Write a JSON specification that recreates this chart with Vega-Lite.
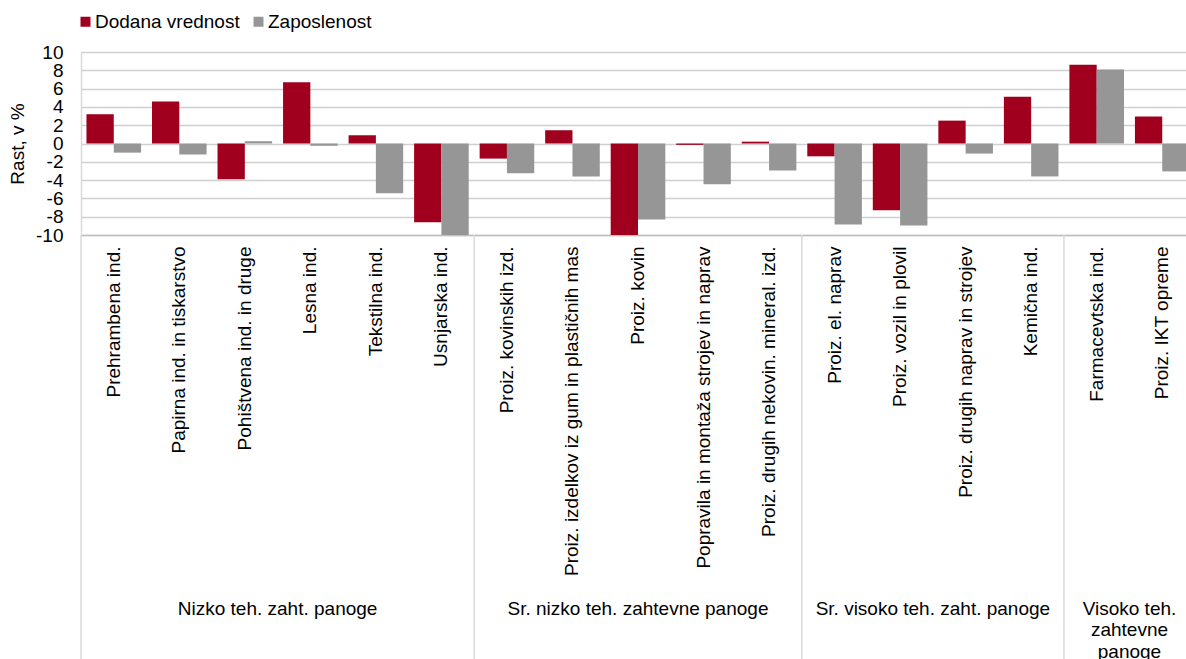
{
  "$schema": "https://vega.github.io/schema/vega-lite/v6.json",
  "width": 1105,
  "height": 183,
  "autosize": {"type": "none"},
  "padding": {"left": 81, "top": 52, "right": 0, "bottom": 424},
  "background": "white",
  "config": {
    "font": "Liberation Sans",
    "view": {"stroke": null},
    "axis": {"labelFont": "Liberation Sans", "titleFont": "Liberation Sans", "labelColor": "#000000", "titleColor": "#000000"},
    "axisY": {"grid": true, "gridColor": "#d0d0d0", "gridWidth": 1.5, "labelOverlap": false, "labelFontSize": 19, "ticks": false, "labelPadding": 18, "domainColor": "#d9d9d9", "domainWidth": 1.5, "titleFontSize": 19, "titleFontWeight": "normal", "titlePadding": 8},
    "legend": {"labelFont": "Liberation Sans"}
  },
  "data": {
    "values": [
      {"cat": "Prehrambena ind.", "group": "Nizko teh. zaht. panoge", "series": "Dodana vrednost", "value": 3.2},
      {"cat": "Prehrambena ind.", "group": "Nizko teh. zaht. panoge", "series": "Zaposlenost", "value": -1.0},
      {"cat": "Papirna ind. in tiskarstvo", "group": "Nizko teh. zaht. panoge", "series": "Dodana vrednost", "value": 4.6},
      {"cat": "Papirna ind. in tiskarstvo", "group": "Nizko teh. zaht. panoge", "series": "Zaposlenost", "value": -1.2},
      {"cat": "Pohištvena ind. in druge", "group": "Nizko teh. zaht. panoge", "series": "Dodana vrednost", "value": -3.9},
      {"cat": "Pohištvena ind. in druge", "group": "Nizko teh. zaht. panoge", "series": "Zaposlenost", "value": 0.25},
      {"cat": "Lesna ind.", "group": "Nizko teh. zaht. panoge", "series": "Dodana vrednost", "value": 6.7},
      {"cat": "Lesna ind.", "group": "Nizko teh. zaht. panoge", "series": "Zaposlenost", "value": -0.25},
      {"cat": "Tekstilna ind.", "group": "Nizko teh. zaht. panoge", "series": "Dodana vrednost", "value": 0.9},
      {"cat": "Tekstilna ind.", "group": "Nizko teh. zaht. panoge", "series": "Zaposlenost", "value": -5.45},
      {"cat": "Usnjarska ind.", "group": "Nizko teh. zaht. panoge", "series": "Dodana vrednost", "value": -8.6},
      {"cat": "Usnjarska ind.", "group": "Nizko teh. zaht. panoge", "series": "Zaposlenost", "value": -10.3},
      {"cat": "Proiz. kovinskih izd.", "group": "Sr. nizko teh. zahtevne panoge", "series": "Dodana vrednost", "value": -1.65},
      {"cat": "Proiz. kovinskih izd.", "group": "Sr. nizko teh. zahtevne panoge", "series": "Zaposlenost", "value": -3.25},
      {"cat": "Proiz. izdelkov iz gum in plastičnih mas", "group": "Sr. nizko teh. zahtevne panoge", "series": "Dodana vrednost", "value": 1.45},
      {"cat": "Proiz. izdelkov iz gum in plastičnih mas", "group": "Sr. nizko teh. zahtevne panoge", "series": "Zaposlenost", "value": -3.6},
      {"cat": "Proiz. kovin", "group": "Sr. nizko teh. zahtevne panoge", "series": "Dodana vrednost", "value": -10.3},
      {"cat": "Proiz. kovin", "group": "Sr. nizko teh. zahtevne panoge", "series": "Zaposlenost", "value": -8.3},
      {"cat": "Popravila in montaža strojev in naprav", "group": "Sr. nizko teh. zahtevne panoge", "series": "Dodana vrednost", "value": -0.15},
      {"cat": "Popravila in montaža strojev in naprav", "group": "Sr. nizko teh. zahtevne panoge", "series": "Zaposlenost", "value": -4.45},
      {"cat": "Proiz. drugih nekovin. mineral. izd.", "group": "Sr. nizko teh. zahtevne panoge", "series": "Dodana vrednost", "value": 0.2},
      {"cat": "Proiz. drugih nekovin. mineral. izd.", "group": "Sr. nizko teh. zahtevne panoge", "series": "Zaposlenost", "value": -2.95},
      {"cat": "Proiz. el. naprav", "group": "Sr. visoko teh. zaht. panoge", "series": "Dodana vrednost", "value": -1.4},
      {"cat": "Proiz. el. naprav", "group": "Sr. visoko teh. zaht. panoge", "series": "Zaposlenost", "value": -8.85},
      {"cat": "Proiz. vozil in plovil", "group": "Sr. visoko teh. zaht. panoge", "series": "Dodana vrednost", "value": -7.3},
      {"cat": "Proiz. vozil in plovil", "group": "Sr. visoko teh. zaht. panoge", "series": "Zaposlenost", "value": -8.95},
      {"cat": "Proiz. drugih naprav in strojev", "group": "Sr. visoko teh. zaht. panoge", "series": "Dodana vrednost", "value": 2.5},
      {"cat": "Proiz. drugih naprav in strojev", "group": "Sr. visoko teh. zaht. panoge", "series": "Zaposlenost", "value": -1.1},
      {"cat": "Kemična ind.", "group": "Sr. visoko teh. zaht. panoge", "series": "Dodana vrednost", "value": 5.1},
      {"cat": "Kemična ind.", "group": "Sr. visoko teh. zaht. panoge", "series": "Zaposlenost", "value": -3.6},
      {"cat": "Farmacevtska ind.", "group": "Visoko teh. zahtevne panoge", "series": "Dodana vrednost", "value": 8.6},
      {"cat": "Farmacevtska ind.", "group": "Visoko teh. zahtevne panoge", "series": "Zaposlenost", "value": 8.1},
      {"cat": "Proiz. IKT opreme", "group": "Visoko teh. zahtevne panoge", "series": "Dodana vrednost", "value": 2.95},
      {"cat": "Proiz. IKT opreme", "group": "Visoko teh. zahtevne panoge", "series": "Zaposlenost", "value": -3.05}
    ]
  },
  "layer": [
    {
      "mark": {"type": "bar", "clip": true},
      "encoding": {
        "x": {
          "field": "cat", "type": "nominal", "sort": null,
          "scale": {
            "domain": ["Prehrambena ind.", "Papirna ind. in tiskarstvo", "Pohištvena ind. in druge", "Lesna ind.", "Tekstilna ind.", "Usnjarska ind.", "Proiz. kovinskih izd.", "Proiz. izdelkov iz gum in plastičnih mas", "Proiz. kovin", "Popravila in montaža strojev in naprav", "Proiz. drugih nekovin. mineral. izd.", "Proiz. el. naprav", "Proiz. vozil in plovil", "Proiz. drugih naprav in strojev", "Kemična ind.", "Farmacevtska ind.", "Proiz. IKT opreme"],
            "range": [0, 1114],
            "paddingInner": 0, "paddingOuter": 0
          },
          "axis": {
            "title": null, "labelAngle": -90, "labelFontSize": 19, "labelPadding": 11,
            "labelLimit": 500, "ticks": false, "domain": true, "domainColor": "#bfbfbf", "domainWidth": 1.5, "grid": false
          }
        },
        "xOffset": {"field": "series", "type": "nominal", "scale": {"paddingInner": 0, "paddingOuter": 0.2}},
        "y": {
          "field": "value", "type": "quantitative",
          "scale": {"domain": [-10, 10], "nice": false},
          "axis": {"title": "Rast, v %", "values": [-10, -8, -6, -4, -2, 0, 2, 4, 6, 8, 10], "labelExpr": "'' + datum.value"}
        },
        "color": {
          "field": "series", "type": "nominal",
          "scale": {"domain": ["Dodana vrednost", "Zaposlenost"], "range": ["#A0001E", "#969696"]},
          "legend": {
            "title": null, "orient": "none", "legendX": -5, "legendY": -40, "direction": "horizontal", "symbolType": "square", "symbolSize": 100,
            "symbolStrokeWidth": 0, "labelFontSize": 19, "labelOffset": 0, "columnPadding": 9, "padding": 0
          }
        }
      }
    },
    {
      "mark": {"type": "rule", "color": "#d9d9d9", "strokeWidth": 1.5},
      "transform": [{"filter": "datum.series == 'Dodana vrednost' && indexof(['Prehrambena ind.', 'Proiz. kovinskih izd.', 'Proiz. el. naprav', 'Farmacevtska ind.'], datum.cat) >= 0"}],
      "encoding": {
        "x": {"field": "cat", "type": "nominal", "sort": null, "bandPosition": 0},
        "y": {"datum": -10, "type": "quantitative", "axis": {"title": "Rast, v %", "values": [-10, -8, -6, -4, -2, 0, 2, 4, 6, 8, 10], "labelExpr": "'' + datum.value"}},
        "y2": {"datum": -57}
      }
    },
    {
      "mark": {"type": "text", "fontSize": 19, "baseline": "alphabetic", "align": "center", "lineHeight": 21.5, "color": "#000000"},
      "transform": [
        {"filter": "datum.series == 'Dodana vrednost' && indexof(['Pohištvena ind. in druge', 'Proiz. vozil in plovil', 'Farmacevtska ind.'], datum.cat) >= 0"},
        {"calculate": "datum.group == 'Visoko teh. zahtevne panoge' ? ['Visoko teh.', 'zahtevne', 'panoge'] : datum.group", "as": "label"}
      ],
      "encoding": {
        "x": {"field": "cat", "type": "nominal", "sort": null, "bandPosition": 1},
        "y": {"datum": -51.5, "type": "quantitative", "axis": {"title": "Rast, v %", "values": [-10, -8, -6, -4, -2, 0, 2, 4, 6, 8, 10], "labelExpr": "'' + datum.value"}},
        "text": {"field": "label"}
      }
    },
    {
      "mark": {"type": "text", "fontSize": 19, "baseline": "alphabetic", "align": "center", "color": "#000000"},
      "transform": [{"filter": "datum.series == 'Dodana vrednost' && datum.cat == 'Proiz. kovin'"}],
      "encoding": {
        "x": {"field": "cat", "type": "nominal", "sort": null, "bandPosition": 0.5},
        "y": {"datum": -51.5, "type": "quantitative", "axis": {"title": "Rast, v %", "values": [-10, -8, -6, -4, -2, 0, 2, 4, 6, 8, 10], "labelExpr": "'' + datum.value"}},
        "text": {"field": "group"}
      }
    }
  ]
}
